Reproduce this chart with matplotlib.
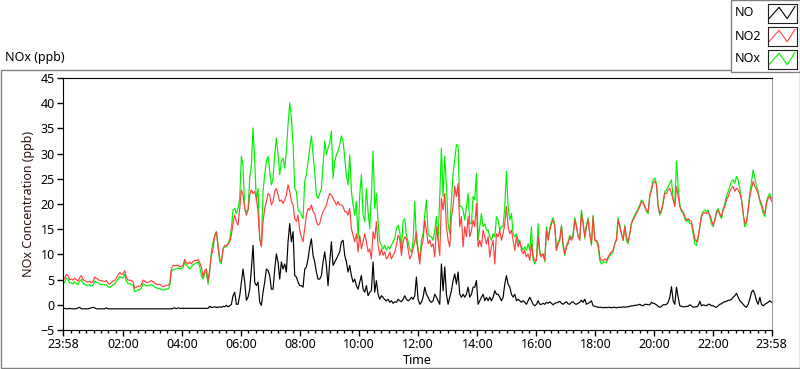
import numpy as np
import matplotlib.pyplot as plt
from matplotlib.patches import Rectangle

# NO, NO2 and NOx concentrations (ppb), one sample every ~3.4 min from 23:58 to 23:58
no_ppb = [
    -0.8, -0.7, -0.8, -0.8, -0.7, -0.8, -0.8, -0.8, -0.8, -0.6,
    -0.5, -0.8, -0.8, -0.8, -0.8, -0.8, -0.7, -0.6, -0.5, -0.6,
    -0.8, -0.8, -0.8, -0.8, -0.8, -0.8, -0.6, -0.8, -0.8, -0.8,
    -0.8, -0.8, -0.8, -0.8, -0.8, -0.8, -0.8, -0.8, -0.8, -0.8,
    -0.8, -0.8, -0.8, -0.8, -0.8, -0.8, -0.8, -0.8, -0.8, -0.8,
    -0.8, -0.8, -0.8, -0.8, -0.8, -0.8, -0.8, -0.8, -0.8, -0.8,
    -0.8, -0.8, -0.8, -0.8, -0.8, -0.8, -0.7, -0.6, -0.8, -0.6,
    # 04:00 - 08:00
    -0.7, -0.7, -0.7, -0.7, -0.7, -0.7, -0.7, -0.7, -0.7, -0.7,
    -0.7, -0.7, -0.7, -0.7, -0.7, -0.7, -0.7, -0.7, -0.3, -0.5,
    -0.5, -0.4, -0.5, -0.5, -0.4, -0.5, -0.3, -0.4, -0.1, -0.4,
    -0.2, 0.1, 1.8, 2.5, 0.1, 0.1, 1.8, 4.5, 7.1, 4.5,
    0.9, 1.5, 3.1, 7.1, 11.8, 4.5, 3.8, 4.5, 0.5, -0.1,
    2.5, 4.5, 7.1, 6.8, 5.8, 3.1, 3.1, 7.1, 10.1, 8.5,
    5.1, 8.5, 7.1, 8.1, 6.5, 12.5, 16.1, 12.5, 14.5, 5.8,
    5.5, 4.5,
    # 08:00 - 12:00
    3.8, 3.8, 3.5, 7.1, 7.5, 9.1, 11.5, 13.1, 9.8, 8.5,
    6.5, 5.1, 5.1, 5.8, 8.5, 10.5, 7.8, 3.8, 8.5, 12.5,
    7.8, 8.5, 9.1, 9.8, 10.5, 12.5, 12.8, 9.8, 8.5, 6.5,
    7.8, 5.8, 4.5, 5.1, 3.8, 3.1, 4.5, 5.8, 3.1, 2.5,
    3.8, 1.8, 2.5, 2.8, 8.5, 2.5, 4.8, 2.1, 1.1, 1.8,
    1.5, 1.0, 0.8, 1.1, 0.5, 0.8, 0.3, 0.6, 0.5, 1.1,
    0.8, 0.6, 1.1, 1.8, 1.1, 0.8, 1.0, 1.5, 1.1, 1.8,
    5.5, 1.1,
    # 12:00 - 16:00
    0.1, 0.5, 1.5, 3.5, 2.1, 1.5, 0.8, 0.5, 0.8, 2.1,
    1.5, 0.8, 0.1, 8.1, 2.8, 7.5, 2.1, 0.1, 1.5, 2.8,
    4.8, 6.1, 4.1, 6.5, 2.1, 1.5, 2.1, 1.5, 2.1, 3.5,
    1.5, 2.1, 3.5, 3.5, 4.8, 0.1, 0.8, 1.5, 2.1, 0.8,
    1.5, 0.8, 1.5, 0.8, 1.5, 2.8, 2.1, 2.1, 1.5, 0.8,
    1.5, 4.1, 5.8, 4.1, 3.5, 2.1, 1.5, 2.1, 0.8, 1.1,
    0.8, 0.5, 0.8, 0.5, 0.1, 0.8, 1.5, 0.8, 0.1, -0.2,
    0.1, 0.8,
    # 16:00 - 20:00
    0.1, 0.1, 0.3, 0.1, 0.5, 0.3, 0.6, 0.3, 0.0, 0.3,
    0.4, 0.5, 0.7, 0.3, 0.1, 0.4, 0.6, 0.2, 0.1, 0.5,
    0.6, 0.2, 0.1, 0.3, 0.5, 0.9, 0.5, 1.1, 0.1, 0.3,
    0.5, 0.8, -0.2, -0.3, -0.4, -0.5, -0.5, -0.5, -0.6, -0.5,
    -0.6, -0.5, -0.5, -0.6, -0.5, -0.5, -0.6, -0.5, -0.5, -0.5,
    -0.4, -0.5, -0.4, -0.4, -0.3, -0.2, -0.2, -0.1, -0.1, 0.0,
    0.1, -0.1, -0.2, 0.1, 0.1, 0.0, 0.0, 0.5, 0.3, 0.2,
    0.0, -0.3,
    # 20:00 - 23:58
    -0.5, -0.3, 0.0, 0.0, 0.1, 0.5, 1.5, 3.6, 0.8, 0.1,
    3.5, 1.5, -0.2, -0.3, -0.4, -0.4, -0.3, -0.3, 0.0, -0.2,
    -0.5, -0.4, -0.4, -0.2, 0.7, -0.2, 0.0, -0.1, -0.2, 0.1,
    0.1, -0.2, -0.2, -0.4, -0.5, -0.2, 0.1, 0.2, 0.5, 0.6,
    0.7, 0.9, 0.9, 1.1, 1.5, 1.8, 2.3, 1.5, 0.8, 0.5,
    0.1, -0.3, -0.5, 0.1, 1.1, 2.5, 2.9, 2.1, 0.8, 0.1,
    1.5, 0.1, -0.2, 0.1, 0.3, 0.5, 0.8, 0.5,
]

no2_ppb = [
    4.8, 5.3, 6.0, 5.8, 5.0, 5.1, 4.9, 5.3, 5.0, 4.7,
    5.4, 5.8, 5.0, 4.8, 4.6, 4.5, 4.7, 4.4, 4.6, 5.5,
    5.2, 5.1, 4.8, 4.8, 4.7, 4.6, 4.8, 4.3, 4.1, 4.4,
    4.7, 4.8, 5.3, 5.9, 6.4, 6.1, 6.0, 6.8, 5.4, 4.9,
    4.9, 4.8, 4.6, 3.3, 3.5, 3.7, 3.6, 4.0, 4.9, 4.7,
    4.4, 4.5, 4.6, 4.8, 4.6, 4.3, 4.1, 4.0, 4.1, 3.8,
    3.6, 3.7, 3.9, 3.8, 4.3, 7.2, 7.8, 7.8, 7.8, 7.9,
    # 04:00 - 08:00
    7.5, 7.6, 7.8, 9.0, 8.4, 8.1, 8.5, 8.1, 8.6, 8.8,
    8.8, 9.0, 8.4, 7.5, 5.5, 6.8, 7.1, 4.8, 7.0, 9.8,
    11.1, 13.5, 14.5, 11.8, 9.1, 8.5, 11.1, 11.8, 11.8, 12.0,
    12.5, 13.8, 16.1, 17.8, 16.5, 15.8, 19.1, 22.8, 21.8, 19.1,
    17.8, 18.8, 21.8, 22.8, 22.1, 22.5, 21.1, 18.5, 13.1, 11.5,
    16.5, 19.1, 20.5, 22.1, 21.8, 19.8, 20.5, 22.5, 23.1, 21.8,
    20.5, 20.8, 20.1, 20.8, 21.8, 23.8, 22.5, 20.5, 19.8, 17.1,
    16.5, 17.8,
    # 08:00 - 12:00
    14.8, 13.5, 12.5, 15.1, 17.8, 19.1, 18.8, 19.8, 18.5, 18.1,
    16.5, 15.8, 16.1, 17.5, 18.5, 19.1, 19.8, 21.1, 22.1, 21.8,
    21.1, 20.5, 19.8, 20.5, 19.8, 19.8, 19.5, 18.5, 18.5, 17.8,
    19.1, 15.1, 13.8, 12.5, 14.1, 10.5, 13.8, 11.1, 12.5, 14.1,
    12.5, 10.5, 11.1, 9.1, 14.5, 13.1, 16.5, 11.8, 9.8, 11.1,
    9.8, 10.5, 9.1, 9.5, 10.5, 9.1, 9.8, 10.5, 11.8, 13.8,
    13.1, 9.8, 12.5, 13.5, 13.1, 11.1, 9.1, 9.8, 11.1, 12.5,
    14.5, 10.5,
    # 12:00 - 16:00
    8.1, 11.5, 12.8, 16.8, 14.8, 12.1, 12.8, 11.5, 12.1, 9.5,
    15.5, 12.8, 9.8, 21.1, 18.8, 22.1, 15.5, 12.8, 11.5, 17.5,
    19.5, 23.5, 21.5, 24.1, 15.5, 17.5, 11.5, 15.5, 13.5, 17.5,
    13.5, 14.8, 16.8, 15.5, 20.1, 11.5, 12.8, 11.5, 14.8, 13.5,
    12.1, 13.5, 9.5, 11.5, 12.8, 8.1, 14.1, 13.5, 14.8, 12.8,
    14.1, 16.1, 19.5, 15.5, 14.1, 14.8, 12.8, 10.8, 13.5, 11.5,
    12.8, 10.8, 10.1, 10.8, 9.5, 10.1, 8.8, 12.1, 9.5, 8.8,
    8.8, 13.5,
    # 16:00 - 20:00
    10.1, 9.5, 10.1, 8.8, 14.8, 12.8, 14.8, 16.1, 16.8, 15.5,
    10.8, 12.1, 12.8, 15.5, 12.1, 10.1, 11.5, 12.1, 13.5, 12.8,
    13.5, 16.8, 15.5, 13.5, 12.8, 18.1, 16.1, 13.5, 15.5, 16.8,
    14.1, 12.1, 17.5, 12.8, 12.8, 12.1, 9.5, 8.8, 8.8, 9.1,
    8.8, 9.5, 10.1, 10.5, 10.8, 12.1, 12.8, 16.8, 15.5, 14.1,
    12.8, 15.5, 13.5, 12.5, 14.1, 16.1, 16.8, 17.5, 18.1, 18.8,
    19.5, 20.5, 20.1, 19.5, 18.8, 18.5, 21.5, 22.8, 24.1, 24.5,
    23.8, 19.5,
    # 20:00 - 23:58
    18.1, 18.8, 20.1, 22.1, 22.1, 22.8, 23.1, 22.1, 20.8, 19.5,
    23.5, 21.5, 19.5, 18.8, 18.5, 17.5, 16.8, 17.1, 16.8, 16.5,
    14.8, 13.1, 12.5, 13.5, 15.5, 17.5, 18.1, 18.3, 18.1, 18.5,
    17.8, 16.8, 15.8, 16.8, 18.1, 18.8, 18.1, 17.5, 18.8, 19.5,
    20.8, 21.5, 22.5, 23.1, 23.5, 22.5, 23.1, 22.8, 22.1, 20.8,
    18.1, 16.1, 16.5, 18.8, 21.5, 23.1, 24.5, 23.5, 22.8, 22.1,
    20.8, 20.1, 18.8, 18.1, 20.1, 21.1, 21.5, 20.5,
]

nox_ppb = [
    4.1, 4.5, 5.3, 5.1, 4.3, 4.4, 4.1, 4.6, 4.2, 4.0,
    4.7, 5.0, 4.3, 4.0, 3.9, 3.8, 4.0, 3.7, 3.9, 4.7,
    4.5, 4.4, 4.1, 4.0, 4.0, 3.9, 4.0, 3.6, 3.4, 3.7,
    4.0, 4.1, 4.6, 5.1, 5.6, 5.4, 5.3, 6.0, 4.7, 4.2,
    4.2, 4.0, 3.9, 2.6, 2.8, 3.0, 2.9, 3.3, 4.2, 4.0,
    3.7, 3.8, 3.9, 4.0, 3.8, 3.5, 3.4, 3.2, 3.3, 3.0,
    2.9, 3.0, 3.2, 3.1, 3.6, 6.5, 7.0, 7.1, 7.1, 7.3,
    # 04:00 - 08:00
    7.1, 7.2, 7.3, 8.5, 7.9, 7.5, 7.1, 7.5, 8.0, 8.1,
    8.3, 8.5, 7.6, 5.8, 5.1, 6.2, 6.6, 4.1, 6.5, 10.5,
    12.5, 13.8, 14.5, 11.5, 8.5, 8.1, 11.1, 11.5, 11.5, 12.1,
    13.1, 15.1, 18.8, 19.1, 18.1, 19.1, 21.1, 29.5, 27.5, 19.1,
    18.5, 18.8, 25.1, 27.8, 35.1, 28.5, 20.5, 23.1, 13.1, 11.8,
    22.5, 25.8, 28.5, 29.5, 26.5, 23.8, 25.1, 29.8, 33.1, 29.8,
    25.8, 28.5, 29.1, 27.1, 30.5, 35.8, 40.1, 37.1, 31.8, 23.1,
    22.5, 18.8,
    # 08:00 - 12:00
    18.5, 17.8, 17.1, 24.5, 25.8, 28.5, 31.1, 33.5, 29.8, 26.5,
    21.8, 21.1, 22.1, 23.1, 27.8, 32.5, 29.8, 31.1, 32.1, 34.5,
    25.1, 28.5, 29.8, 30.5, 31.8, 33.5, 32.5, 29.1, 25.8, 23.8,
    29.8, 22.5, 19.8, 17.8, 20.5, 13.1, 21.8, 25.8, 17.8, 16.5,
    23.1, 18.5, 15.1, 21.8, 30.5, 19.1, 22.1, 16.5, 12.5, 11.8,
    11.1, 11.8, 10.8, 11.5, 11.1, 11.8, 12.5, 13.1, 15.1, 15.8,
    14.5, 11.1, 16.5, 17.1, 13.8, 12.5, 11.1, 10.5, 12.5, 20.5,
    12.5, 11.1,
    # 12:00 - 16:00
    8.8, 12.8, 14.1, 17.8, 20.8, 14.1, 13.5, 13.5, 12.8, 14.8,
    17.5, 12.8, 21.5, 31.1, 21.5, 29.5, 23.5, 16.1, 14.1, 20.8,
    26.1, 28.8, 31.8, 31.5, 19.5, 19.5, 18.8, 16.8, 19.5, 22.1,
    16.1, 16.1, 21.5, 20.8, 26.1, 12.8, 15.5, 18.1, 15.5, 16.1,
    14.8, 14.8, 13.5, 12.8, 14.1, 13.5, 17.5, 16.8, 14.8, 15.5,
    15.5, 19.5, 26.5, 19.5, 16.8, 18.1, 14.1, 13.5, 14.1, 12.8,
    12.1, 11.5, 10.8, 11.5, 10.8, 12.1, 10.8, 15.5, 8.8, 8.1,
    9.1, 16.1,
    # 16:00 - 20:00
    10.5, 9.8, 10.1, 8.5, 15.5, 13.1, 15.1, 16.5, 17.3, 15.8,
    10.8, 12.5, 13.1, 15.8, 11.5, 9.8, 11.8, 12.5, 13.8, 13.1,
    14.1, 17.3, 15.8, 13.5, 13.1, 18.8, 16.5, 13.1, 15.8, 17.3,
    13.8, 11.8, 17.8, 12.8, 12.5, 11.5, 8.8, 8.1, 8.5, 8.5,
    8.3, 9.1, 9.8, 10.1, 10.5, 12.1, 13.1, 17.3, 15.8, 14.1,
    12.8, 15.8, 12.8, 12.1, 14.1, 16.3, 17.1, 17.8, 18.5, 19.1,
    19.8, 20.8, 20.5, 19.5, 18.5, 18.1, 21.8, 23.1, 24.8, 25.1,
    24.1, 19.5,
    # 20:00 - 23:58
    17.8, 18.5, 20.5, 22.5, 22.8, 23.5, 24.1, 24.8, 21.1, 19.8,
    28.5, 23.5, 19.8, 18.5, 18.1, 17.1, 16.5, 16.8, 16.1, 16.1,
    14.1, 12.1, 11.8, 13.1, 15.5, 17.8, 18.5, 18.8, 18.5, 18.8,
    17.5, 16.1, 15.5, 16.8, 18.5, 19.1, 17.8, 17.1, 19.1, 20.1,
    21.5, 22.5, 23.5, 24.5, 24.8, 24.1, 25.5, 24.8, 23.1, 21.1,
    18.1, 15.5, 16.1, 19.1, 22.1, 24.5, 26.8, 25.1, 23.5, 22.5,
    20.5, 19.5, 18.1, 17.5, 20.5, 21.5, 22.1, 21.1,
]

series_names = ["NO", "NO2", "NOx"]
series_colors = ["#000000", "#ff4040", "#00f000"]

# x axis: minutes since 23:58 of the previous day
tick_minutes = [0, 122, 242, 362, 482, 602, 722, 842, 962, 1082, 1202, 1322, 1440]
tick_labels = ["23:58", "02:00", "04:00", "06:00", "08:00", "10:00", "12:00",
               "14:00", "16:00", "18:00", "20:00", "22:00", "23:58"]

t = np.linspace(0, 1440, len(no_ppb))

plt.rcParams['font.family'] = ['Noto Sans', 'DejaVu Sans']
plt.rcParams['font.size'] = 9

W, H = 800, 369
fig = plt.figure(figsize=(W / 100, H / 100), dpi=100)

def fx(px):
    return px / W

def fy(py):
    return 1 - py / H

# outer panel frame
fig.patches.append(Rectangle((fx(0.5), fy(367.5)), fx(799), (367.5 - 69.5) / H,
                             transform=fig.transFigure, fill=False,
                             edgecolor="#808080", lw=1, zorder=-5))
fig.text(fx(5), fy(58), "NOx (ppb)", ha="left", va="center", fontsize=9)

ax = fig.add_axes([fx(63), fy(330), fx(771.5 - 63), (330 - 78) / H])
ax.plot(t, nox_ppb, color=series_colors[2], lw=0.85)
ax.plot(t, no2_ppb, color=series_colors[1], lw=0.85)
ax.plot(t, no_ppb, color=series_colors[0], lw=0.85)

ax.set_xlim(0, 1440)
ax.set_ylim(-5, 45)
ax.set_yticks(np.arange(-5, 46, 5))
ax.set_xticks(tick_minutes)
ax.set_xticklabels(tick_labels)
minor = [m for m in range(17, 1440, 15) if m not in tick_minutes]
ax.set_xticks(minor, minor=True)
ax.tick_params(axis="both", which="major", direction="out", length=4, width=1,
               labelsize=9, pad=2)
ax.tick_params(axis="x", which="minor", direction="out", length=2.5, width=1)
ax.set_ylabel("NOx Concentration (ppb)", fontsize=9, color="#2a1510", labelpad=4)
ax.set_xlabel("Time", fontsize=9, labelpad=2)
for s in ["left", "bottom", "top"]:
    ax.spines[s].set_color("black")
ax.spines["right"].set_color("#a0a0a0")

# legend box, top right
fig.patches.append(Rectangle((fx(730.5), fy(71.5)), fx(70), 71.5 / H,
                             transform=fig.transFigure, facecolor="white",
                             edgecolor="#808080", lw=1, zorder=-5))
rows = [13, 36, 59]
for name, color, yc in zip(series_names, series_colors, rows):
    fig.text(fx(735), fy(yc), name, ha="left", va="center", fontsize=9)
    sw = fig.add_axes([fx(767.5), fy(yc + 9.5), fx(29), 19 / H])
    sw.set_xlim(0, 1)
    sw.set_ylim(0, 1)
    sw.plot([0.05, 0.4, 0.68, 0.95], [0.2, 0.8, 0.2, 0.85], color=color, lw=0.8)
    sw.set_xticks([])
    sw.set_yticks([])
    for s in sw.spines.values():
        s.set_color("#202020")

fig.savefig("out.png", dpi=100)
